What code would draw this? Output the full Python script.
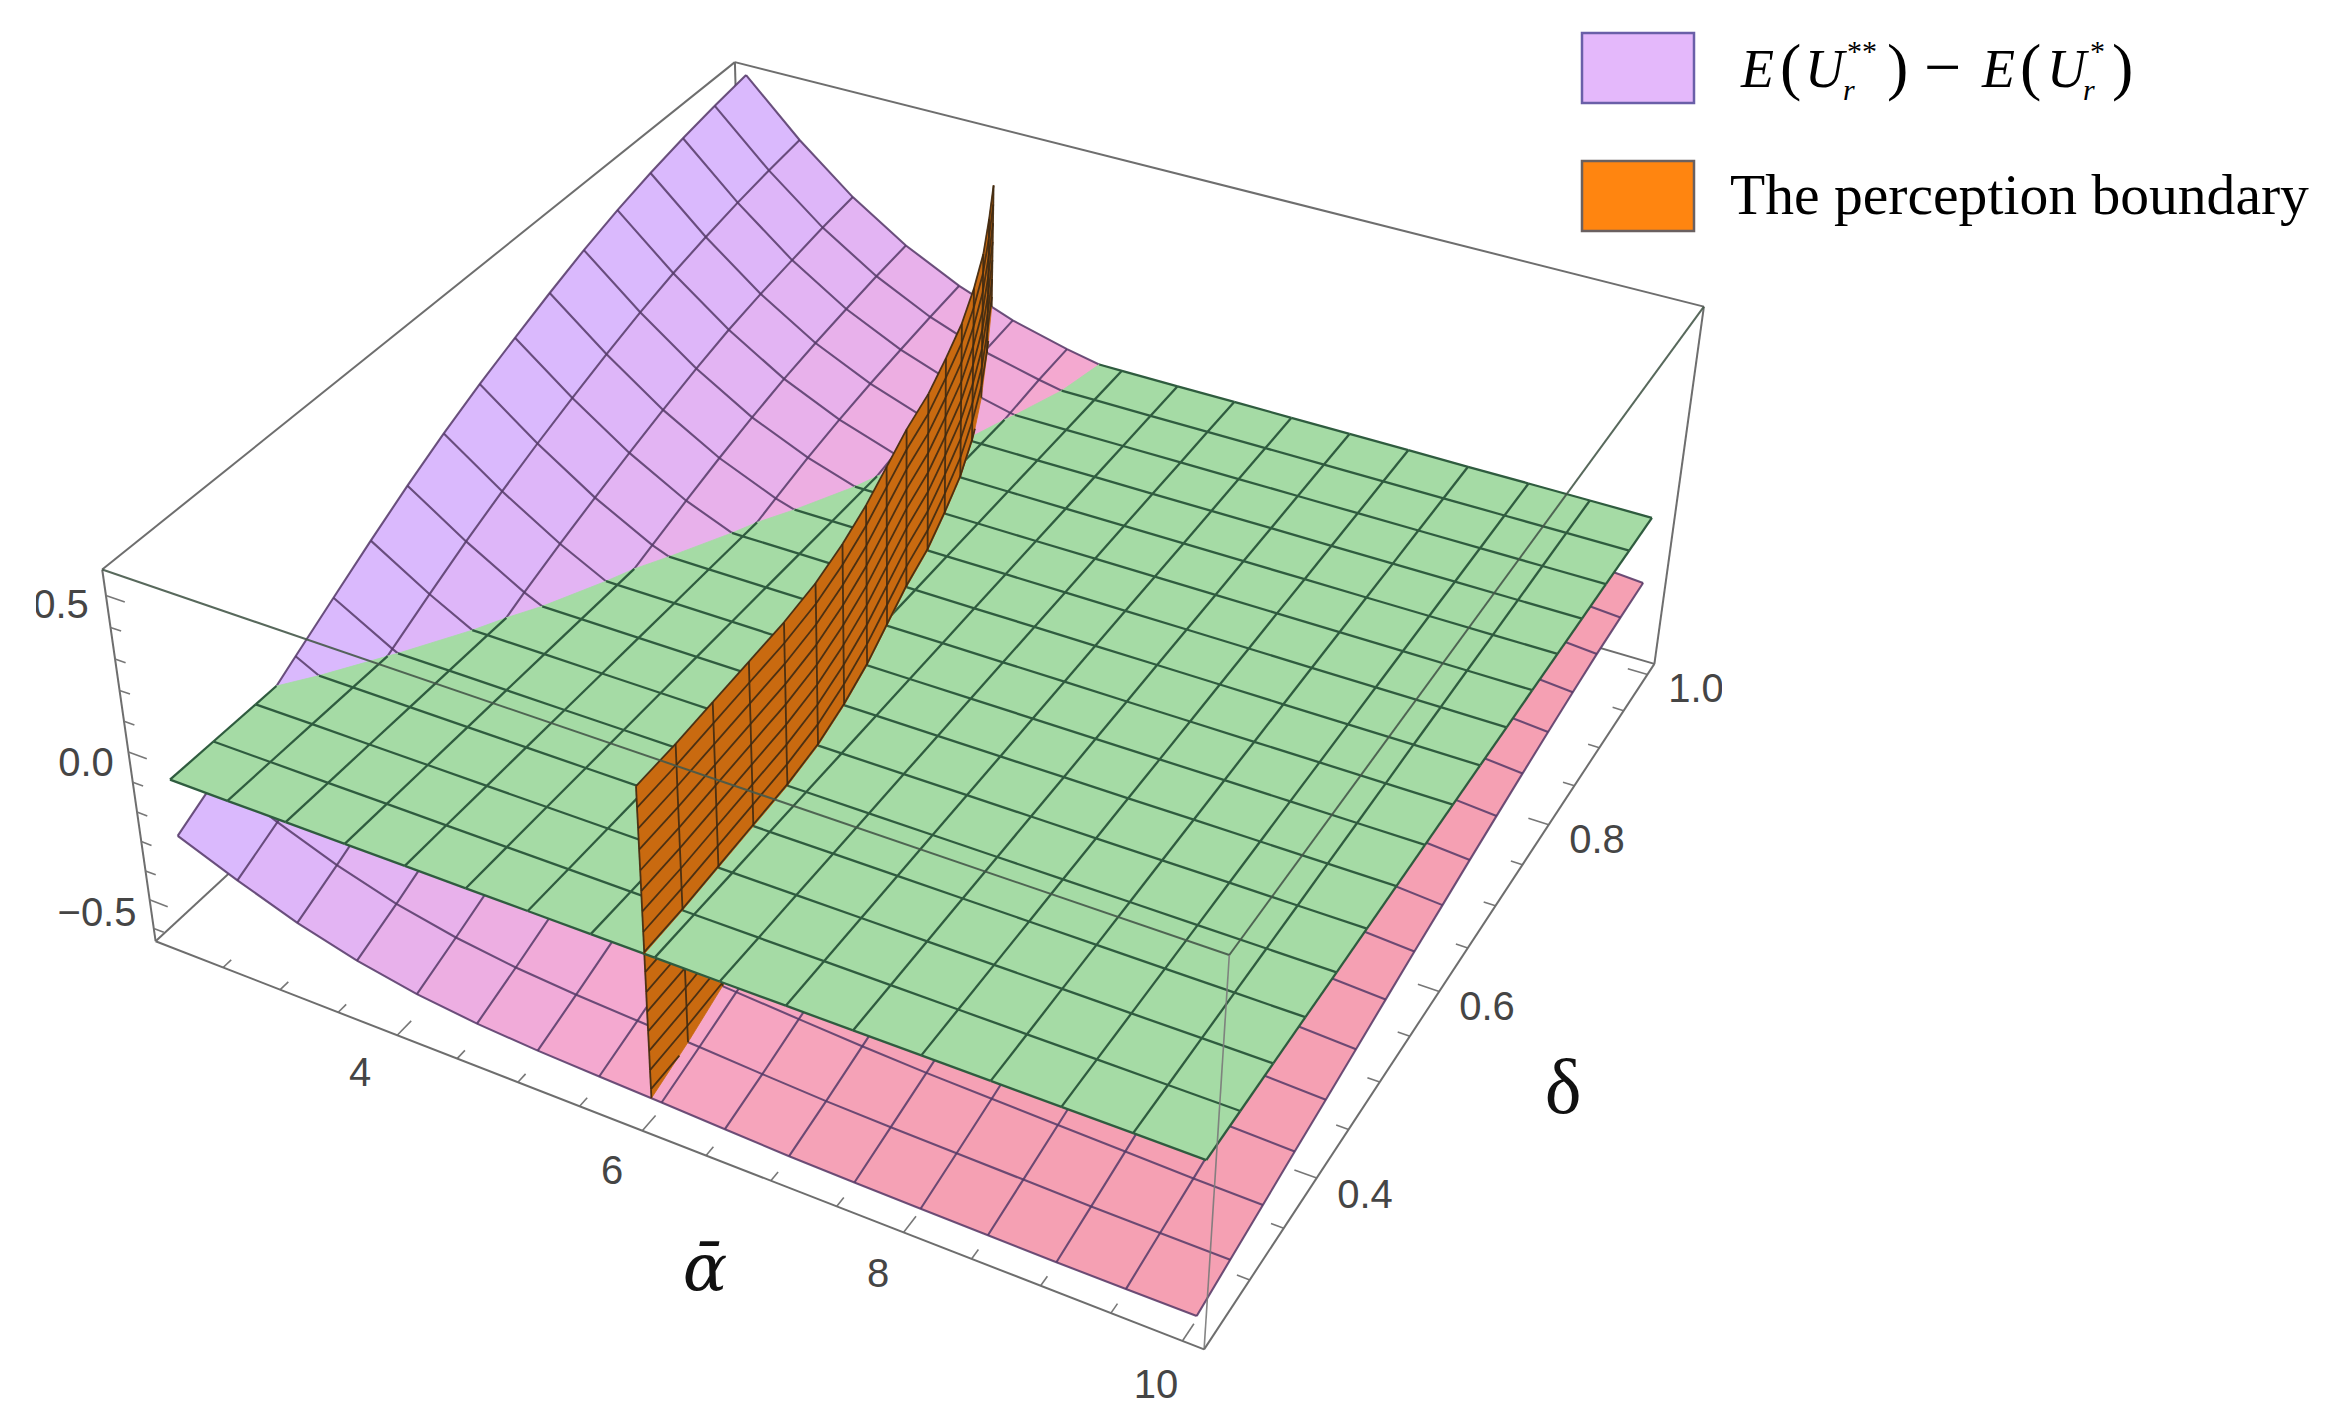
import numpy as np, altair as alt
# ---- values ----
alpha=[2.1,2.595,3.09,3.585,4.08,4.575,5.07,5.565,6.06,6.555,7.05,7.545,8.04,8.535,9.03,9.525,10.02]
delta=[.25,.296875,.34375,.390625,.4375,.484375,.53125,.578125,.625,.671875,.71875,.765625,.8125,.859375,.90625,.953125,1.0]
# surface E(U**)-E(U*), one row per delta, one column per alpha (thousandths)
purple_table=[
[-294,-373,-444,-498,-536,-559,-572,-580,-587,-595,-603,-607,-609,-611,-613,-613,-612],
[-222,-308,-383,-442,-483,-510,-526,-537,-547,-559,-569,-575,-579,-583,-587,-589,-590],
[-145,-237,-317,-380,-426,-457,-477,-491,-505,-519,-532,-542,-548,-554,-560,-565,-568],
[-65,-166,-255,-325,-376,-412,-434,-451,-467,-483,-497,-507,-516,-525,-533,-540,-546],
[13,-96,-192,-268,-324,-363,-390,-409,-427,-446,-462,-474,-485,-496,-507,-517,-525],
[90,-29,-133,-217,-278,-322,-350,-372,-392,-412,-429,-441,-455,-469,-482,-493,-504],
[163,35,-77,-168,-234,-282,-313,-337,-358,-379,-397,-410,-426,-441,-456,-470,-482],
[230,93,-26,-125,-195,-246,-279,-305,-327,-349,-367,-380,-398,-415,-432,-447,-461],
[290,146,20,-83,-158,-212,-247,-275,-298,-322,-341,-354,-374,-392,-410,-426,-442],
[343,195,64,-42,-120,-177,-214,-244,-270,-296,-316,-331,-352,-371,-389,-407,-423],
[394,240,105,-4,-85,-145,-184,-216,-244,-271,-294,-309,-331,-351,-370,-388,-405],
[441,282,143,30,-53,-115,-156,-190,-220,-249,-273,-289,-311,-332,-351,-370,-388],
[481,317,175,59,-27,-91,-134,-169,-201,-231,-255,-272,-295,-316,-335,-354,-372],
[514,345,200,82,-6,-72,-117,-153,-186,-217,-242,-259,-282,-302,-321,-340,-358],
[541,369,220,101,11,-56,-102,-139,-174,-206,-232,-249,-272,-291,-310,-328,-346],
[563,388,238,118,26,-43,-89,-128,-165,-199,-226,-244,-266,-285,-303,-321,-338],
[581,403,251,130,38,-33,-82,-121,-160,-195,-223,-242,-264,-282,-300,-316,-333]]
green_level=-0.105
wall_alpha=[5.98,5.97,5.95,5.93,5.91,5.87,5.80,5.71,5.60,5.49,5.40,5.28,5.15,4.99,4.81,4.60,4.38]
wall_z=[-.62,-.555,-.49,-.425,-.36,-.295,-.23,-.165,-.10,-.035,.03,.095,.16,.225,.29,.355,.42]
alpha_ticks=[2.5,3,3.5,4,4.5,5,5.5,6,6.5,7,7.5,8,8.5,9,9.5,10]
delta_ticks=[.3,.35,.4,.45,.5,.55,.6,.65,.7,.75,.8,.85,.9,.95,1.0]
z_ticks=[-.6,-.5,-.4,-.3,-.2,-.1,0,.1,.2,.3,.4,.5]
tick_labels=[(61,606,"0.5"),(86,764,"0.0"),(97,914,"\u22120.5"),(360,1074,"4"),(612,1172,"6"),(878,1275,"8"),(1156,1386,"10"),(1365,1196,"0.4"),(1487,1008,"0.6"),(1597,841,"0.8"),(1696,690,"1.0")]
purple_ramp=["#dab9fd","#deb6f9","#e3b4f3","#e8b1eb","#edaee2","#f1abd9","#f4a9d0","#f6a7c8","#f6a5c1","#f6a4bb","#f5a2b7","#f5a1b5","#f5a0b3","#f5a0b3","#f5a0b3","#f5a0b3"]
GREEN="#a5dba5";ORANGE="#c96a10"
# ---- view: the 3D box as it sits on the page ----
A0,A1,D0,D1,Z0,Z1=1.9,10.15,0.235,1.015,-0.645,0.58
view=[((A0,D0,Z1),(104,569)),((A0,D0,Z0),(160,944)),((A1,D0,Z1),(1227,958)),((A1,D0,Z0),(1204,1349)),
((A1,D1,Z1),(1704,307)),((A1,D1,Z0),(1655,663)),((A0,D1,Z1),(735,60)),
((A1,.4,Z0),(1324,1174)),((A1,.6,Z0),(1439,990)),((A1,.8,Z0),(1551,823)),((A1,1.0,Z0),(1644,680)),
((4,D0,Z0),(391,1035)),((6,D0,Z0),(640,1131)),((8,D0,Z0),(901,1233)),((10,D0,Z0),(1183,1340))]
M=[];b=[]
for (a,d,z),(x,y) in view:
    M.append([a,d,z,1,0,0,0,0,-x*a,-x*d,-x*z]);b.append(x)
    M.append([0,0,0,0,a,d,z,1,-y*a,-y*d,-y*z]);b.append(y)
h=np.linalg.lstsq(np.array(M,float),np.array(b,float),rcond=None)[0]
P=np.append(h,1).reshape(3,4)
def pr(a,d,z):
    v=P@np.array([a,d,z,1.]);return [round(float(v[0]/v[2]),1),round(float(v[1]/v[2]),1)]
purple_z=np.array(purple_table)/1000.
def zp(a,d):
    x=float(np.clip((a-alpha[0])/(alpha[1]-alpha[0]),0,15.999));y=float(np.clip((d-.25)/(.75/16),0,15.999))
    i=int(x);j=int(y);u=x-i;v=y-j;t=purple_z
    return (1-u)*(1-v)*t[j,i]+u*(1-v)*t[j,i+1]+(1-u)*v*t[j+1,i]+u*v*t[j+1,i+1]
def clip(poly,f):
    out=[];n=len(poly)
    for k in range(n):
        p,q=np.array(poly[k]),np.array(poly[(k+1)%n])
        fp,fq=f(*p),f(*q)
        if fp>=0: out.append(p)
        if (fp>=0)!=(fq>=0): out.append(p+(q-p)*fp/(fp-fq))
    return out
def clipseg(p,q,fs):
    p,q=np.array(p),np.array(q);t0,t1=0.,1.
    for f in fs:
        a,b=f(*p),f(*q)
        if a<0 and b<0: return None
        if a<0: t0=max(t0,a/(a-b))
        elif b<0: t1=min(t1,a/(a-b))
    if t0>=t1: return None
    return p+(q-p)*t0,p+(q-p)*t1
def poly_feat(vs,color):
    c=[pr(*v) for v in vs];c.append(c[0])
    return {"type":"Feature","properties":{"color":color},"geometry":{"type":"Polygon","coordinates":[c]}}
def line_feat(vs):
    return {"type":"Feature","properties":{},"geometry":{"type":"LineString","coordinates":[pr(*v) for v in vs]}}
def xy_poly(c,color,sc=None):
    return {"type":"Feature","properties":{"color":color,"sc":sc or color},"geometry":{"type":"Polygon","coordinates":[c+[c[0]]]}}
PJ=dict(type="identity",scale=1,translate=[-8,-8])
def fills(feats,sw=.8):
    return alt.Chart(alt.Data(values=feats)).mark_geoshape(strokeWidth=sw).encode(fill=alt.Fill("properties.color:N",scale=None),stroke=alt.Stroke("properties.color:N",scale=None)).project(**PJ)
def lines(feats,color,sw,op=1):
    return alt.Chart(alt.Data(values=feats)).mark_geoshape(filled=False,stroke=color,strokeWidth=sw,opacity=op).project(**PJ)
c=lambda a,d,z:(a,d,z)
boxback=[[c(A0,D0,Z1),c(A0,D1,Z1)],[c(A0,D1,Z1),c(A1,D1,Z1)],[c(A0,D0,Z1),c(A0,D0,Z0)],[c(A1,D1,Z1),c(A1,D1,Z0)],[c(A0,D1,Z1),c(A0,D1,Z0)],
 [c(A0,D0,Z0),c(A0,D1,Z0)],[c(A1,D1,Z0),c(A0,D1,Z0)]]
layers=[lines([line_feat(s) for s in boxback],"#6e6e6e",2)]
pc=[poly_feat([(alpha[i],delta[j],purple_z[j,i]),(alpha[i+1],delta[j],purple_z[j,i+1]),(alpha[i+1],delta[j+1],purple_z[j+1,i+1]),(alpha[i],delta[j+1],purple_z[j+1,i])],purple_ramp[i]) for j in range(16) for i in range(16)]
layers.append(fills(pc))
pl=[line_feat([(alpha[i],delta[j],purple_z[j,i]) for j in range(17)]) for i in range(17)]+[line_feat([(alpha[i],delta[j],purple_z[j,i]) for i in range(17)]) for j in range(17)]
layers.append(lines(pl,"#553a68",2.1,.85))
def wall_cells(fs):
    out=[]
    for j in range(16):
        for k in range(16):
            q=[(wall_alpha[j],delta[j],wall_z[k]),(wall_alpha[j+1],delta[j+1],wall_z[k]),(wall_alpha[j+1],delta[j+1],wall_z[k+1]),(wall_alpha[j],delta[j],wall_z[k+1])]
            for f in fs:
                if len(q)>=3: q=clip(q,f)
            if len(q)>=3: out.append(poly_feat(q,ORANGE))
    return out
def wall_lines(fs):
    out=[]
    for k in range(17):
        for j in range(16):
            s=clipseg((wall_alpha[j],delta[j],wall_z[k]),(wall_alpha[j+1],delta[j+1],wall_z[k]),fs)
            if s: out.append(line_feat(s))
    for j in range(17):
        for k in range(16):
            s=clipseg((wall_alpha[j],delta[j],wall_z[k]),(wall_alpha[j],delta[j],wall_z[k+1]),fs)
            if s: out.append(line_feat(s))
    return out
above_p=lambda a,d,z:z-zp(a,d)
above_g=lambda a,d,z:z-green_level
below_g=lambda a,d,z:green_level-z
layers.append(fills(wall_cells([above_p,below_g])))
layers.append(lines(wall_lines([above_p,below_g]),"#3f2a12",1.8,.9))
gc=[]
for j in range(16):
    for i in range(16):
        q=clip([(alpha[i],delta[j],green_level),(alpha[i+1],delta[j],green_level),(alpha[i+1],delta[j+1],green_level),(alpha[i],delta[j+1],green_level)],above_p)
        if len(q)>=3: gc.append(poly_feat(q,GREEN))
layers.append(fills(gc))
gl=[]
for i in range(17):
    for j in range(16):
        s=clipseg((alpha[i],delta[j],green_level),(alpha[i],delta[j+1],green_level),[above_p])
        if s: gl.append(line_feat(s))
for j in range(17):
    for i in range(16):
        s=clipseg((alpha[i],delta[j],green_level),(alpha[i+1],delta[j],green_level),[above_p])
        if s: gl.append(line_feat(s))
layers.append(lines(gl,"#2f5c3f",2.3))
layers.append(fills(wall_cells([above_p,above_g])))
layers.append(lines(wall_lines([above_p,above_g]),"#3f2a12",1.8,.9))
top_edges=[[c(A0,D0,Z1),c(A1,D0,Z1)],[c(A1,D1,Z1),c(A1,D0,Z1)]]
layers.append(lines([line_feat(s) for s in top_edges],"#46594b",2,.9))
layers.append(lines([line_feat([c(A1,D0,Z1),c(A1,D0,Z0)])],"#7a7a7a",1.6,.9))
ticks=[]
for a in alpha_ticks:
    ticks.append(line_feat([(a,D0,Z0),(a,D0+(.016 if a%2==0 else .009),Z0)]))
for d in delta_ticks:
    m=d in (.4,.6,.8,1.0)
    ticks.append(line_feat([(A1,d,Z0),(A1-(.16 if m else .09),d,Z0)]))
for z in z_ticks:
    ticks.append(line_feat([(A0,D0,z),(A0+(.16 if z in (-.5,0,.5) else .09),D0,z)]))
layers.append(lines(ticks,"#777777",1.6))
layers.append(lines([line_feat(s) for s in [[c(A0,D0,Z0),c(A1,D0,Z0)],[c(A1,D0,Z0),c(A1,D1,Z0)]]],"#6e6e6e",2))
sx=alt.Scale(domain=[8,2328],range=[0,2320]);sy=alt.Scale(domain=[8,1412],range=[0,1404])
def text(rows,font,size,color="#000000",style="normal",align="center"):
    return alt.Chart(alt.Data(values=[{"x":x,"y":y,"t":t} for x,y,t in rows])).mark_text(font=font,fontSize=size,color=color,fontStyle=style,align=align,baseline="middle").encode(x=alt.X("x:Q",scale=sx,axis=None),y=alt.Y("y:Q",scale=sy,axis=None),text="t:N")
layers.append(text(tick_labels,"Liberation Sans",40,"#454545"))
layers.append(fills([xy_poly([[15,580],[36,580],[36,635],[15,635]],"#ffffff"),xy_poly([[1722,665],[1740,665],[1740,715],[1722,715]],"#ffffff")],0))
layers.append(text([(1563,1090,"\u03b4")],"Liberation Serif",78,"#111111"))
layers.append(text([(705,1270,"\u1fb1")],"DejaVu Serif",66,"#111111","italic"))
legend_boxes=[xy_poly([[1582,33],[1694,33],[1694,103],[1582,103]],"#e4b8fb","#6a5fa8"),xy_poly([[1582,161],[1694,161],[1694,231],[1582,231]],"#ff8510","#6a6060")]
layers.append(alt.Chart(alt.Data(values=legend_boxes)).mark_geoshape(strokeWidth=2.5).encode(fill=alt.Fill("properties.color:N",scale=None),stroke=alt.Stroke("properties.sc:N",scale=None)).project(**PJ))
layers.append(text([(1730,197,"The perception boundary")],"Liberation Serif",57.6,align="left"))
layers.append(text([(1741,71,"E"),(1805,71,"U"),(1982,71,"E"),(2047,71,"U")],"Liberation Serif",54,style="italic",align="left"))
layers.append(text([(1780,69,"("),(1887,69,")"),(2020,69,"("),(2112,69,")")],"Liberation Serif",64,align="left"))
layers.append(text([(1924,69,"\u2212")],"Liberation Serif",66,align="left"))
layers.append(text([(1847,52,"**"),(2090,52,"*")],"Liberation Serif",30,align="left"))
layers.append(text([(1843,91,"r"),(2083,91,"r")],"Liberation Serif",30,style="italic",align="left"))
chart=alt.layer(*layers).properties(width=2320,height=1404,padding=0,autosize=alt.AutoSizeParams(type="none")).configure_view(stroke=None)
chart.save("out.html",embed_options={"renderer":"svg","actions":False})
